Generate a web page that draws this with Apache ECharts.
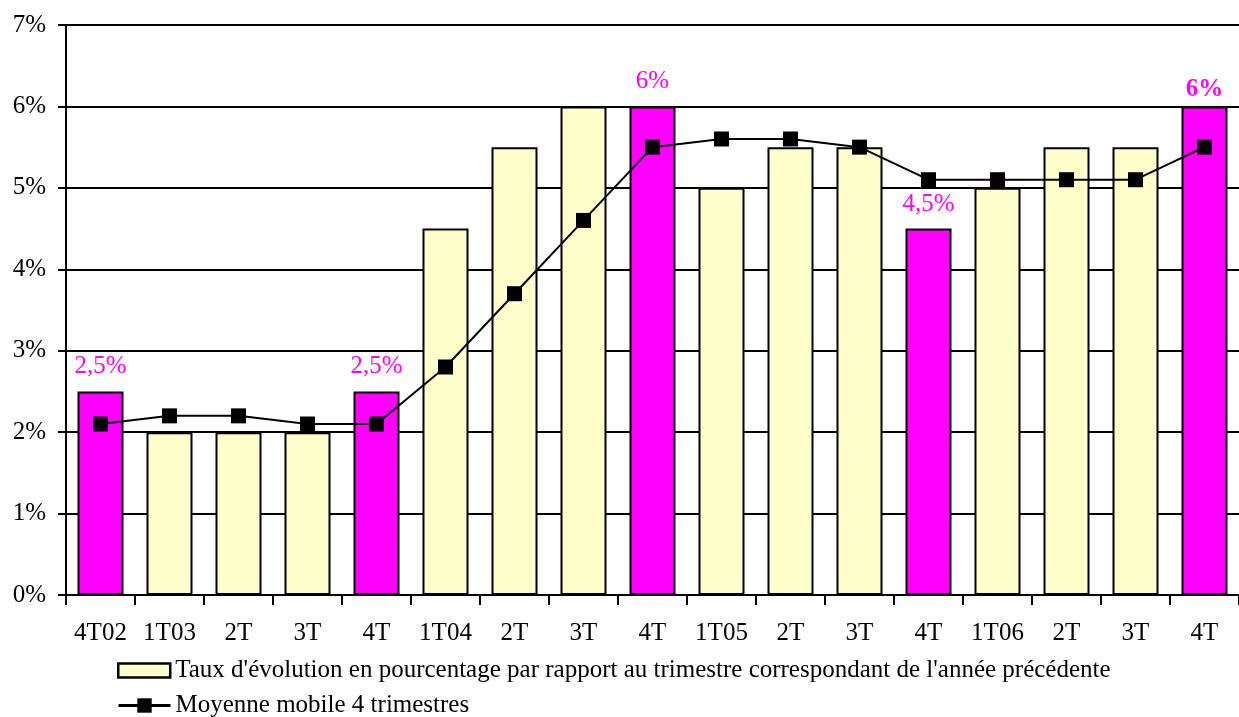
<!DOCTYPE html>
<html>
<head>
<meta charset="utf-8">
<script src="https://cdn.jsdelivr.net/npm/echarts@6/dist/echarts.min.js"></script>
<style>html,body{margin:0;padding:0;background:#fff;}#c{width:1239px;height:717px;}</style>
</head>
<body>
<div id="c"></div>
<script>
var categories = ['4T02','1T03','2T','3T','4T','1T04','2T','3T','4T','1T05','2T','3T','4T','1T06','2T','3T','4T'];
var rates = [2.5, 2, 2, 2, 2.5, 4.5, 5.5, 6, 6, 5, 5.5, 5.5, 4.5, 5, 5.5, 5.5, 6];
var movingAvg = [2.1, 2.2, 2.2, 2.1, 2.1, 2.8, 3.7, 4.6, 5.5, 5.6, 5.6, 5.5, 5.1, 5.1, 5.1, 5.1, 5.5];
var highlighted = [0, 4, 8, 12, 16];
var boldLabel = [16];
var yTicks = [0, 1, 2, 3, 4, 5, 6, 7];

var FONT = '"Liberation Serif", "Times New Roman", serif';
var FS = 25;
function fmt(v){ return String(v).replace('.', ',') + '%'; }

var barData = rates.map(function(v, i){
  if (highlighted.indexOf(i) < 0) return v;
  var bold = boldLabel.indexOf(i) >= 0;
  return {
    value: v,
    itemStyle: { color: '#FF00FF' },
    label: {
      show: true, position: 'top', distance: bold ? 4 : 12,
      formatter: fmt(v), color: '#FF00FF',
      fontFamily: FONT, fontSize: FS, fontWeight: bold ? 'bold' : 'normal'
    }
  };
});

var chart = echarts.init(document.getElementById('c'));
chart.setOption({
  animation: false,
  grid: { left: 66, right: -5, top: 25, bottom: 122 },
  xAxis: {
    type: 'category', data: categories,
    axisLine: { lineStyle: { color: '#000', width: 2 } },
    axisTick: { show: true, length: 10, lineStyle: { color: '#000', width: 2 } },
    axisLabel: { color: '#000', fontFamily: FONT, fontSize: FS, margin: 26 }
  },
  yAxis: {
    type: 'value', min: yTicks[0], max: yTicks[yTicks.length-1], interval: 1,
    axisLine: { show: true, lineStyle: { color: '#000', width: 2 } },
    axisTick: { show: true, length: 8, lineStyle: { color: '#000', width: 2 } },
    axisLabel: { color: '#000', fontFamily: FONT, fontSize: FS, margin: 20, formatter: '{value}%' },
    splitLine: { show: true, lineStyle: { color: '#000', width: 2 } }
  },
  legend: [
    { data: [{ name: 'Taux d\'évolution en pourcentage par rapport au trimestre correspondant de l\'année précédente', icon: 'rect' }],
      left: 112, top: 653, itemWidth: 52, itemHeight: 14, itemGap: 6,
      itemStyle: { borderWidth: 2.5, borderColor: '#000' },
      textStyle: { color: '#000', fontFamily: FONT, fontSize: FS } },
    { data: ['Moyenne mobile 4 trimestres'],
      left: 112, top: 688, itemWidth: 52, itemHeight: 18, itemGap: 6,
      lineStyle: { width: 3 },
      textStyle: { color: '#000', fontFamily: FONT, fontSize: FS } }
  ],
  series: [
    {
      name: 'Taux d\'évolution en pourcentage par rapport au trimestre correspondant de l\'année précédente',
      type: 'bar', data: barData, barWidth: 46,
      itemStyle: { color: '#FFFFCC', borderColor: '#000', borderWidth: 2 }
    },
    {
      name: 'Moyenne mobile 4 trimestres',
      type: 'line', data: movingAvg, symbol: 'rect', symbolSize: 15,
      lineStyle: { color: '#000', width: 2 }, itemStyle: { color: '#000' }
    }
  ]
});
</script>
</body>
</html>
